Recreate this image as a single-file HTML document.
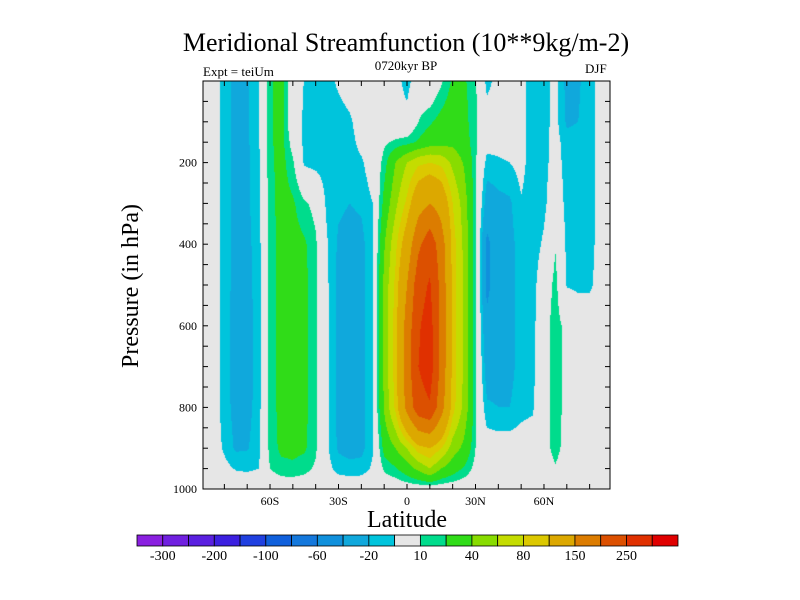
<!DOCTYPE html>
<html><head><meta charset="utf-8">
<style>
body{margin:0;background:#fff;width:800px;height:600px;overflow:hidden;position:relative;font-family:"Liberation Serif",serif;}
.t{position:absolute;white-space:nowrap;color:#000;}
</style></head>
<body>
<div class="t" style="left:0;width:812px;text-align:center;top:28px;font-size:26px;">Meridional Streamfunction (10**9kg/m-2)</div>
<div class="t" style="left:203px;top:64px;font-size:13px;">Expt = teiUm</div>
<div class="t" style="left:356px;width:100px;text-align:center;top:58px;font-size:13px;">0720kyr BP</div>
<div class="t" style="left:585px;top:61px;font-size:13px;">DJF</div>
<canvas id="cv" width="407" height="408" style="position:absolute;left:203px;top:81px;"></canvas>
<svg id="ax" width="800" height="600" style="position:absolute;left:0;top:0;"></svg>
<script>
const lats=[-90,-85,-80,-75,-70,-65,-60,-55,-50,-45,-40,-35,-30,-25,-20,-15,-10,-5,0,5,10,15,20,25,30,35,40,45,50,55,60,65,70,75,80,85,90];
const pressures=[0,100,150,200,300,400,500,600,700,800,900,950,1000];
const columns=[
[0,0,0,0,0,0,0,0,0,0,0,0,0],
[-4,-4,-4,-4,-4,-4,-4,-4,-4,-4,-3,-2,0],
[-14,-14,-14,-14,-14,-14,-14,-14,-14,-14,-12,-6,0],
[-24,-25,-25,-24,-24,-24,-25,-26,-27,-25,-22,-11,0],
[-22,-22,-22,-22,-22,-23,-24,-25,-26,-24,-21,-12,0],
[-12,-12,-12,-13,-14,-15,-15,-15,-15,-15,-14,-10,0],
[18,18,18,17,16,15,15,15,15,15,14,10,0],
[25,25,25,25,25,24,24,24,24,24,23,16,0],
[0,-2,4,12,22,25,26,26,26,26,24,17,0],
[-10.5,-12,-13,-12,12,22,24,24,24,24,22,14,0],
[-16,-16,-15,-14,6,12,12,12,12,12,12,8,0],
[-14,-14,-15,-15,-13,-9,-8,-8,-8,-8,-8,-6,0],
[-8,-15,-15,-16,-18,-22,-24,-24,-24,-24,-22,-14,0],
[-3,-12,-14,-15,-20,-25,-27,-26,-26,-26,-25,-16,0],
[0,-3,-6,-12,-18,-24,-25,-25,-24,-24,-24,-15,0],
[0,0,0,-2,-10,-11,-11,-11,-11,-11,-11,-8,0],
[0,0,8,14,25,38,45,45,45,42,25,12,0],
[-5,-2,12,40,55,75,85,90,90,85,40,18,0],
[-15,-5,15,60,85,120,150,170,175,165,60,30,0],
[0,10,22,75,130,190,230,245,250,230,90,45,0],
[-5,18,30,80,150,230,255,270,275,245,100,60,0],
[8,25,32,75,130,175,185,185,185,170,80,40,0],
[22,30,35,55,80,90,92,92,92,88,50,28,0],
[22,25,28,38,50,55,56,56,56,54,35,18,0],
[12,12,12,12,12,12,12,12,12,12,10,6,0],
[-14,-3,-5,-14,-28,-45,-45,-35,-28,-18,-2,0,0],
[-5,-2,-5,-12,-24,-28,-28,-27,-26,-20,-3,0,0],
[-3,-2,-4,-10,-22,-24,-24,-24,-24,-20,-3,0,0],
[-6,-6,-6,-6,-11,-15,-15,-15,-15,-14,-3,0,0],
[-16,-16,-16,-16,-16,-16,-15,-15,-14,-12,-2,0,0],
[-14,-14,-14,-14,-13,-8,0,5,5,5,5,2,0],
[-6,-6,-5,-4,0,9,14,15,15,15,14,9,0],
[-24,-22,-16,-15,-14,-13,-11,6,6,6,5,2,0],
[-22,-20,-15,-14,-14,-13,-12,-2,0,0,0,0,0],
[-13,-13,-13,-13,-13,-13,-12,-2,0,0,0,0,0],
[-6,-6,-6,-6,-6,-6,-5,0,0,0,0,0,0],
[0,0,0,0,0,0,0,0,0,0,0,0,0]
];
const levels=[-300,-250,-200,-150,-100,-80,-60,-40,-20,-10,10,20,40,60,80,100,150,200,250,300];
const levelLabels=["-300","-200","-100","-60","-20","10","40","80","150","250"];
const colors=["#8a20e0","#7020e0","#5a20e0","#3c20e0","#2040e0","#1060dc","#1478dc","#1090dc","#10a8dc","#00c4dc","#e6e6e6","#00dc8c","#30dc18","#88dc00","#c4dc00","#dcc800","#dca800","#dc7c00","#dc5000","#e03000","#e00000"];
const latTicks=[-60,-30,0,30,60];
const latTickLabels=["60S","30S","0","30N","60N"];
const pTicks=[200,400,600,800,1000];

const X0=203,X1=610,Y0=81,Y1=489;
function xOf(lat){return 407+lat*2.283;}
function latOf(x){return (x-407)/2.283;}
function yOf(p){return Y0+p*(Y1-Y0)/1000;}
function pOf(y){return (y-Y0)*1000/(Y1-Y0);}
function idx(arr,v){let i=0;while(i<arr.length-2&&arr[i+1]<v)i++;return i;}
function valueAt(lat,p){
  lat=Math.max(lats[0],Math.min(lats[lats.length-1],lat));
  p=Math.max(0,Math.min(1000,p));
  const i=idx(lats,lat),j=idx(pressures,p);
  const tx=(lat-lats[i])/(lats[i+1]-lats[i]),ty=(p-pressures[j])/(pressures[j+1]-pressures[j]);
  const a=columns[i][j],b=columns[i+1][j],c=columns[i][j+1],d=columns[i+1][j+1];
  return (a*(1-tx)+b*tx)*(1-ty)+(c*(1-tx)+d*tx)*ty;
}
function colorIndex(v){let k=0;for(const b of levels){if(v>=b)k++;}return k;}
const rgb=colors.map(c=>[parseInt(c.substr(1,2),16),parseInt(c.substr(3,2),16),parseInt(c.substr(5,2),16)]);
const cv=document.getElementById('cv'),ctx=cv.getContext('2d');
const img=ctx.createImageData(cv.width,cv.height);
for(let py=0;py<cv.height;py++){for(let px=0;px<cv.width;px++){
  const v=valueAt(latOf(X0+px+0.5),pOf(Y0+py+0.5));
  const c=rgb[colorIndex(v)];const o=(py*cv.width+px)*4;
  img.data[o]=c[0];img.data[o+1]=c[1];img.data[o+2]=c[2];img.data[o+3]=255;}}
ctx.putImageData(img,0,0);

const NS='http://www.w3.org/2000/svg',svg=document.getElementById('ax');
function el(t,a,txt){const e=document.createElementNS(NS,t);for(const k in a)e.setAttribute(k,a[k]);if(txt!==undefined)e.textContent=txt;svg.appendChild(e);return e;}
let fr=el('rect',{x:X0,y:Y0,width:X1-X0,height:Y1-Y0,fill:'none',stroke:'#000','stroke-width':1});


for(let lat=-80;lat<=80;lat+=10){const x=xOf(lat);
  let t1=el('line',{x1:x,x2:x,y1:Y1,y2:Y1-5,stroke:'#000'});
  
  
  let t2=el('line',{x1:x,x2:x,y1:Y0,y2:Y0+5,stroke:'#000'});
  
  }
latTicks.forEach((lat,i)=>{let t=el('text',{x:xOf(lat),y:Y1+16,'text-anchor':'middle','font-size':12,'font-family':'Liberation Serif'},latTickLabels[i]);
  
  });
for(let p=50;p<1000;p+=50){const y=yOf(p);
  let t1=el('line',{x1:X0,x2:X0+5,y1:y,y2:y,stroke:'#000'});
  
  
  let t2=el('line',{x1:X1,x2:X1-5,y1:y,y2:y,stroke:'#000'});
  
  }
pTicks.forEach(p=>{let t=el('text',{x:X0-6,y:yOf(p)+4,'text-anchor':'end','font-size':12,'font-family':'Liberation Serif'},String(p));
  
  });
let xt=el('text',{x:407,y:527,'text-anchor':'middle','font-size':24,'font-family':'Liberation Serif'},'Latitude');


let yt=el('text',{x:0,y:0,'text-anchor':'middle','font-size':24,'font-family':'Liberation Serif',transform:'translate(138,286) rotate(-90)'},'Pressure (in hPa)');


const CB0=137,CB1=678,CBY=535,CBH=11,bw=(CB1-CB0)/colors.length;
colors.forEach((c,i)=>{let r=el('rect',{x:CB0+i*bw,y:CBY,width:bw,height:CBH,fill:c,stroke:'#000','stroke-width':0.8});
  
  });
levelLabels.forEach((lab,i)=>{let t=el('text',{x:CB0+(2*i+1)*bw,y:CBY+25,'text-anchor':'middle','font-size':14,'font-family':'Liberation Serif'},lab);
  
  });
</script>
</body></html>
